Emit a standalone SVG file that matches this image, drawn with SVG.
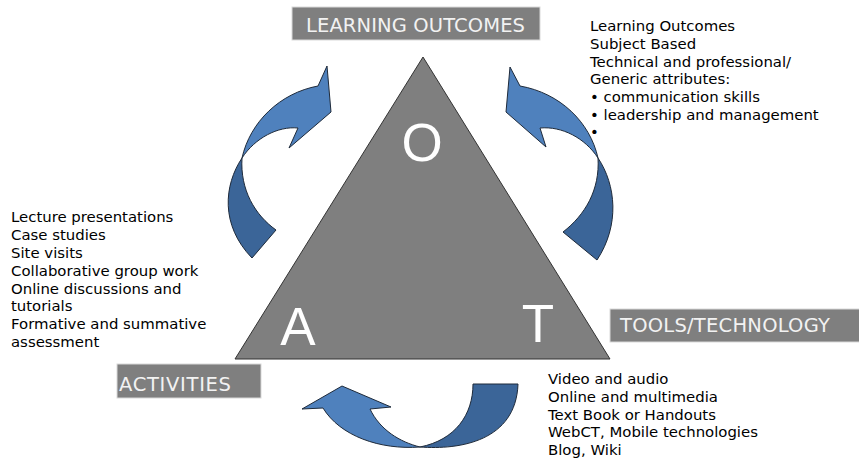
<svg xmlns="http://www.w3.org/2000/svg" width="859" height="460" viewBox="0 0 859 460">
<style>
.lbl{fill:#7f7f7f;stroke:#d9d9d9;stroke-width:1}
.lt{font-family:"DejaVu Sans",Verdana,sans-serif;font-size:19.5px;fill:#f2f2f2}
.bt{font-family:"DejaVu Sans",Verdana,sans-serif;font-size:14.9px;fill:#000}
.big{font-family:"Liberation Sans",Arial,sans-serif;font-size:53px;fill:#fff;text-anchor:middle}
.lightA{fill:#4f81bd;stroke:#1e2a3a;stroke-width:1}
.darkA{fill:#3b6598;stroke:#1e2a3a;stroke-width:1}
</style>
<rect width="859" height="460" fill="#fff"/>
<g id="triangle">
<polygon points="423,57 235,359 610,359" fill="#7f7f7f" stroke="#333" stroke-width="1"/>
<text class="big" x="422" y="161">O</text>
<text class="big" x="298" y="345">A</text>
<text class="big" x="538" y="342">T</text>
</g>
<g id="connectors">
<g id="arrow-left">
<path class="darkA" d="M242,158 C224,185 220,225 252,258 L276,230 C255,215 240,190 242,158 Z"/>
<path class="lightA" d="M242,158 C250,122 280,93 318,86 L327,66 L331,112 L289,148 L298,128 C278,126 255,138 242,158 Z"/>
</g>
<g id="arrow-right">
<path class="darkA" d="M598,158 C616,185 620,225 597,260 L563,232 C585,215 600,190 598,158 Z"/>
<path class="lightA" d="M598,158 C590,122 560,93 520,86 L510,67 L506,112 L546,147 L540,128 C562,126 585,138 598,158 Z"/>
</g>
<g id="arrow-bottom">
<path class="darkA" d="M420,447 C460,450 516,441 518,384 L473,384 C473,415 455,440 420,447 Z"/>
<path class="lightA" d="M420,447 C380,450 340,436 323,408 L302,409 L342,386 L391,407 L370,409 C380,430 400,442 420,447 Z"/>
</g>
</g>
<g id="learning-outcomes">
<rect class="lbl" x="292" y="7" width="248" height="33"/>
<text class="lt" x="306" y="32" textLength="219" lengthAdjust="spacing">LEARNING OUTCOMES</text>
</g>
<g id="activities">
<rect class="lbl" x="117" y="364" width="144" height="34"/>
<text class="lt" x="119" y="391" textLength="112" lengthAdjust="spacing">ACTIVITIES</text>
</g>
<g id="tools">
<rect class="lbl" x="610" y="309" width="252" height="33"/>
<text class="lt" x="620" y="332" textLength="210" lengthAdjust="spacing">TOOLS/TECHNOLOGY</text>
</g>
<g id="outcomes-list">
<text class="bt" x="590" y="31">Learning Outcomes</text>
<text class="bt" x="590" y="49">Subject Based</text>
<text class="bt" x="590" y="67">Technical and professional/</text>
<text class="bt" x="590" y="84">Generic attributes:</text>
<text class="bt" x="590" y="102">• communication skills</text>
<text class="bt" x="590" y="120">• leadership and management</text>
<text class="bt" x="590" y="137">•</text>
</g>
<g id="activities-list">
<text class="bt" x="11" y="222">Lecture presentations</text>
<text class="bt" x="11" y="240">Case studies</text>
<text class="bt" x="11" y="258">Site visits</text>
<text class="bt" x="11" y="276">Collaborative group work</text>
<text class="bt" x="11" y="294">Online discussions and</text>
<text class="bt" x="11" y="311">tutorials</text>
<text class="bt" x="11" y="329">Formative and summative</text>
<text class="bt" x="11" y="347">assessment</text>
</g>
<g id="tools-list">
<text class="bt" x="548" y="384">Video and audio</text>
<text class="bt" x="548" y="402">Online and multimedia</text>
<text class="bt" x="548" y="420">Text Book or Handouts</text>
<text class="bt" x="548" y="437">WebCT, Mobile technologies</text>
<text class="bt" x="548" y="455">Blog, Wiki</text>
</g>
</svg>
